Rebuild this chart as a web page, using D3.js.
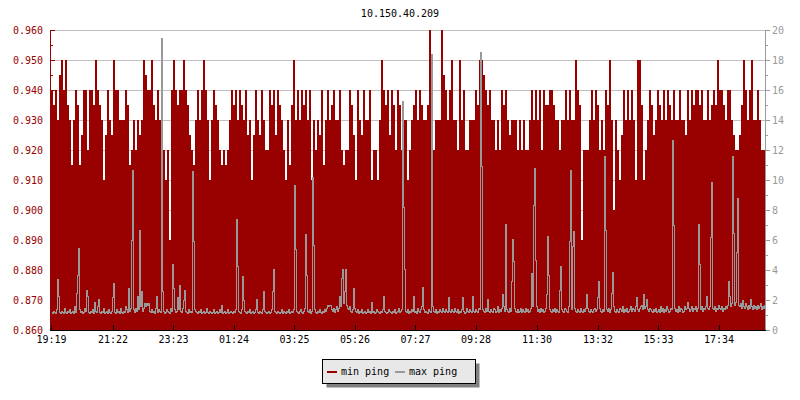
<!DOCTYPE html>
<html><head><meta charset="utf-8">
<script src="https://cdn.jsdelivr.net/npm/d3@7"></script>
<style>
body{margin:0;background:#fff}
svg{display:block}
text{font-family:"DejaVu Sans Mono",monospace;font-size:10px}
</style>
</head><body>
<svg id="chart" width="800" height="400"></svg>
<script>
const chartTitle = "10.150.40.209";
const startTime = "19:19";
const minSampleMinutes = 4;
const maxSampleMinutes = 2;
const tickLabels = ["19:19","21:22","23:23","01:24","03:25","05:26","07:27","09:28","11:30","13:32","15:33","17:34"];
const seriesNames = ["min ping","max ping"];
const leftDomain = [0.86, 0.96];
const rightDomain = [0, 20];

const minPing = [
0.94,0.935,0.94,0.93,0.945,0.95,0.94,0.95,0.935,0.93,
0.915,0.93,0.94,0.935,0.915,0.925,0.94,0.94,0.92,0.94,
0.94,0.935,0.95,0.94,0.935,0.93,0.91,0.925,0.94,0.93,
0.925,0.95,0.94,0.94,0.93,0.93,0.93,0.94,0.935,0.915,
0.92,0.93,0.92,0.93,0.925,0.93,0.95,0.945,0.94,0.94,
0.95,0.935,0.93,0.94,0.93,0.92,0.92,0.91,0.92,0.89,
0.94,0.95,0.94,0.935,0.94,0.94,0.95,0.94,0.935,0.925,
0.92,0.915,0.93,0.94,0.93,0.94,0.95,0.94,0.93,0.91,
0.93,0.94,0.935,0.93,0.92,0.915,0.92,0.915,0.92,0.93,
0.94,0.935,0.94,0.93,0.94,0.935,0.93,0.94,0.925,0.93,
0.91,0.925,0.94,0.93,0.925,0.94,0.93,0.92,0.92,0.94,
0.935,0.94,0.925,0.94,0.935,0.93,0.92,0.91,0.93,0.915,
0.935,0.95,0.93,0.94,0.93,0.94,0.935,0.94,0.93,0.94,
0.91,0.93,0.92,0.93,0.925,0.94,0.915,0.93,0.94,0.93,
0.935,0.94,0.93,0.93,0.94,0.92,0.915,0.92,0.92,0.94,
0.935,0.925,0.91,0.94,0.93,0.925,0.94,0.93,0.93,0.94,
0.91,0.92,0.92,0.91,0.93,0.95,0.94,0.935,0.94,0.925,
0.94,0.935,0.92,0.94,0.935,0.92,0.93,0.93,0.91,0.92,
0.93,0.935,0.94,0.93,0.94,0.935,0.93,0.93,0.935,0.96,
0.92,0.92,0.93,0.93,0.93,0.96,0.945,0.94,0.93,0.94,
0.95,0.93,0.93,0.92,0.95,0.93,0.94,0.92,0.92,0.93,
0.93,0.93,0.94,0.935,0.95,0.95,0.945,0.94,0.935,0.94,
0.93,0.93,0.92,0.93,0.92,0.94,0.935,0.94,0.93,0.925,
0.93,0.93,0.93,0.92,0.93,0.92,0.93,0.92,0.92,0.93,
0.94,0.93,0.94,0.93,0.94,0.92,0.94,0.935,0.935,0.94,
0.94,0.935,0.93,0.93,0.92,0.93,0.93,0.94,0.93,0.94,
0.93,0.93,0.95,0.94,0.935,0.89,0.92,0.92,0.92,0.93,
0.94,0.93,0.94,0.935,0.92,0.93,0.92,0.94,0.935,0.95,
0.93,0.90,0.93,0.92,0.91,0.925,0.94,0.93,0.94,0.93,
0.94,0.93,0.91,0.95,0.95,0.935,0.91,0.92,0.93,0.94,
0.935,0.925,0.93,0.94,0.935,0.93,0.94,0.93,0.94,0.935,
0.93,0.94,0.93,0.93,0.94,0.93,0.93,0.925,0.94,0.93,
0.94,0.935,0.94,0.94,0.935,0.94,0.93,0.93,0.94,0.93,
0.935,0.94,0.935,0.95,0.94,0.94,0.935,0.93,0.94,0.94,
0.93,0.925,0.92,0.92,0.925,0.935,0.95,0.94,0.93,0.94,
0.95,0.93,0.93,0.94,0.93,0.92,0.92,0.92
];

const maxPing = [
1.2,1.1,1.3,1.2,1.1,1.4,3.4,2.3,1.2,1.1,1.3,1.2,1.1,1.5,1.2,1.1,1.3,1.2,1.4,1.1,
1.2,1.3,1.1,1.6,1.2,2.5,3.7,5.5,1.4,1.2,1.3,1.1,1.2,1.5,1.3,2.7,2.3,1.2,1.1,1.3,
1.2,1.4,1.1,1.9,1.3,1.2,1.6,2.1,1.2,1.1,1.3,1.2,1.5,1.1,1.2,1.3,1.1,1.4,1.2,1.1,
1.3,2.2,3.1,1.2,1.1,1.4,1.2,1.3,1.1,1.5,1.2,1.1,1.3,1.2,1.6,1.4,1.2,2.8,1.3,1.5,
6.0,10.7,1.4,1.2,1.5,1.3,2.3,1.4,6.7,1.6,2.6,1.3,1.5,1.8,1.6,1.8,1.7,1.8,1.3,1.2,
1.4,1.2,1.3,1.1,1.5,2.3,1.2,1.4,1.3,1.2,19.5,2.6,1.3,1.1,1.2,1.4,1.3,1.2,1.1,1.5,
1.3,4.4,2.8,1.4,1.2,1.3,2.2,1.4,3.0,1.3,1.2,1.5,2.0,2.7,1.3,1.2,1.1,1.4,1.2,1.3,
1.2,10.6,5.9,1.4,1.3,1.2,1.1,1.3,1.2,1.4,1.1,1.2,1.3,1.1,1.2,1.5,1.2,1.1,1.3,1.2,
1.1,1.2,1.4,1.1,1.2,1.3,1.1,1.2,1.4,1.2,1.7,1.1,1.2,1.3,1.1,1.2,1.4,1.1,1.2,1.3,
1.2,1.1,1.3,1.2,1.4,7.4,4.3,1.3,1.2,1.1,1.4,3.6,2.0,1.3,1.2,1.1,1.3,1.2,1.4,1.1,
1.2,1.3,1.1,1.2,1.4,2.1,1.2,1.1,1.3,1.2,1.1,1.4,2.6,1.3,1.2,1.1,1.2,1.3,1.1,1.2,
1.4,2.6,4.1,1.3,1.2,1.1,1.3,1.2,1.1,1.2,1.4,1.1,1.3,1.2,1.1,1.3,1.2,1.4,1.1,1.2,
1.3,1.2,1.4,9.7,5.4,1.3,1.2,1.1,1.3,1.4,1.2,1.1,1.3,1.5,6.4,3.7,1.3,1.2,1.4,1.1,
1.3,10.2,5.7,1.4,1.2,1.1,1.3,1.2,1.4,1.2,1.1,1.3,1.2,1.4,1.3,1.5,1.7,1.6,1.7,1.7,
1.4,1.3,1.5,1.2,1.4,1.6,1.3,1.5,2.3,1.6,3.5,4.1,1.8,2.6,4.1,1.7,1.5,1.4,1.6,1.3,
1.2,1.4,2.8,1.5,1.3,1.2,1.4,1.1,1.3,1.2,1.4,1.1,1.2,1.3,1.1,1.2,1.4,1.2,1.3,1.1,
1.9,1.2,1.3,1.1,1.2,1.4,1.3,1.2,1.1,1.3,1.2,1.4,2.3,1.3,1.2,1.1,1.2,1.4,1.3,1.2,
1.1,1.3,1.2,1.4,1.1,1.2,1.3,1.5,1.2,1.3,1.4,15.3,8.2,4.1,1.3,1.2,1.4,1.1,1.3,1.2,
1.4,1.3,2.3,1.2,1.3,1.1,1.5,1.3,1.2,1.4,1.6,2.9,1.4,1.2,1.3,1.2,1.1,1.4,1.3,1.2,
18.4,1.6,1.3,1.2,1.4,1.1,1.3,1.2,1.4,1.3,1.2,1.5,1.3,1.2,1.4,1.3,1.2,2.2,1.3,1.2,
1.4,1.3,1.2,1.5,1.3,1.2,1.4,1.1,1.3,1.2,1.4,2.2,1.3,1.1,1.2,1.5,1.3,1.2,1.4,1.3,
1.2,2.3,1.3,1.2,1.4,1.3,1.2,1.5,1.4,18.5,10.9,1.4,1.3,1.2,1.5,1.3,2.1,1.3,1.2,1.4,
1.3,1.2,1.5,1.4,1.2,1.3,1.6,1.2,1.4,1.3,1.5,2.4,1.6,1.3,7.1,1.4,1.3,1.2,1.5,1.3,
3.3,6.1,4.6,1.5,1.3,1.2,1.4,1.2,1.3,1.5,1.2,1.4,1.3,1.2,1.5,1.3,1.4,1.2,1.3,1.5,
3.8,1.6,8.3,10.8,4.7,1.6,1.3,1.4,1.2,1.5,1.3,1.4,1.2,1.3,1.5,2.4,6.3,3.7,1.4,1.3,
1.2,1.4,1.3,1.5,1.2,1.4,1.3,1.2,2.7,4.3,1.4,1.3,1.2,1.5,1.4,1.3,1.2,1.6,5.9,10.7,
1.4,5.6,6.6,1.5,1.3,1.2,1.4,1.3,1.2,1.5,1.3,1.2,1.4,1.3,1.5,2.4,1.5,1.3,1.2,1.4,
1.3,1.2,1.4,1.5,1.3,1.4,2.2,3.3,1.5,1.3,1.2,1.4,1.3,11.6,6.7,1.4,1.3,1.5,1.2,1.4,
2.5,3.9,1.6,1.3,1.2,1.4,1.3,1.2,1.5,1.4,1.3,1.6,1.2,1.4,1.3,1.5,1.2,1.3,1.4,1.6,
1.3,1.5,1.4,1.3,1.6,2.2,1.4,1.3,1.5,1.6,1.7,1.4,2.4,1.5,1.6,2.1,1.4,1.3,1.5,1.4,
1.3,1.2,1.4,1.3,1.5,1.2,1.3,1.4,1.2,1.6,1.3,1.5,1.2,1.4,1.3,1.6,1.4,1.2,1.3,1.5,
1.4,12.7,7.0,1.5,1.3,1.4,1.2,1.6,1.3,1.5,1.4,1.2,1.3,1.6,1.4,1.5,1.9,1.5,1.3,1.4,
1.6,1.3,1.5,1.4,1.6,1.3,1.5,7.1,4.4,1.4,1.6,1.3,1.5,1.4,1.6,2.3,1.5,1.4,1.6,6.2,
9.9,1.5,1.4,1.6,1.3,1.5,1.4,1.7,1.5,1.4,1.6,1.3,1.5,1.4,1.6,1.5,1.7,3.3,2.3,1.6,
1.8,11.6,6.5,1.7,1.9,5.2,8.8,1.7,1.6,1.8,1.5,2.0,1.6,1.5,1.8,1.6,1.4,1.7,1.5,2.1,
1.6,1.4,1.7,1.5,1.6,1.4,1.7,1.5,1.6,1.8,1.4,1.6,1.5,1.7,1.4,1.6
];

const RED = "#990000", GRAY = "#999999";
const svg = d3.select("#chart");
const plot = {left: 50, right: 765, top: 30, bottom: 330};

const toMin = s => { const [h, m] = s.split(":").map(Number); return h * 60 + m; };
const t0 = toMin(startTime);
const tickMinutes = tickLabels.map(s => { let m = toMin(s) - t0; if (m < 0) m += 1440; return m; });

const totalMinutes = minPing.length * minSampleMinutes;
const x = d3.scaleLinear().domain([0, totalMinutes]).range([plot.left + 1, plot.left + 1 + totalMinutes / 2]);
const yL = d3.scaleLinear().domain(leftDomain).range([plot.bottom, plot.top]);
const yR = d3.scaleLinear().domain(rightDomain).range([plot.bottom, plot.top]);

// title
svg.append("text").attr("x", 400).attr("y", 14).attr("text-anchor", "middle")
  .attr("dominant-baseline", "middle").attr("fill", "#000").text(chartTitle);

// grid
const majorL = d3.range(0, 11).map(i => +(leftDomain[0] + i * 0.01).toFixed(3));
svg.append("g").selectAll("line").data(majorL).join("line")
  .attr("x1", plot.left).attr("x2", plot.right)
  .attr("y1", d => Math.round(yL(d)) + 0.5).attr("y2", d => Math.round(yL(d)) + 0.5)
  .attr("stroke", "#c0c0c0").attr("stroke-width", 1);

// data
svg.append("clipPath").attr("id", "clip").append("rect")
  .attr("x", plot.left + 1).attr("y", plot.top).attr("width", plot.right - plot.left - 1).attr("height", plot.bottom - plot.top + 1);
const dg = svg.append("g").attr("clip-path", "url(#clip)");

const minPts = minPing.map((v, i) => [i * minSampleMinutes, v]);
minPts.push([minPing.length * minSampleMinutes, minPing[minPing.length - 1]]);
const area = d3.area().curve(d3.curveStepAfter)
  .x(d => x(d[0])).y0(yL(leftDomain[0])).y1(d => yL(d[1]));
dg.append("path").attr("d", area(minPts)).attr("fill", RED).attr("shape-rendering", "crispEdges");

const maxPts = maxPing.map((v, i) => [i * maxSampleMinutes, v]);
const line = d3.line().curve(d3.curveStepAfter)
  .x(d => x(d[0]) + 0.5).y(d => Math.round(yR(d[1])) + 0.5);
dg.append("path").attr("d", line(maxPts)).attr("fill", "none").attr("stroke", GRAY)
  .attr("stroke-width", 1).attr("shape-rendering", "crispEdges");

// left axis
const minorL = d3.range(0, 10).map(i => +(leftDomain[0] + 0.005 + i * 0.01).toFixed(4));
const gL = svg.append("g").attr("transform", `translate(${plot.left},0)`);
gL.call(d3.axisLeft(yL).tickValues(majorL).tickSizeInner(-5).tickSizeOuter(0).tickPadding(7).tickFormat(d3.format(".3f")));
const gLm = svg.append("g").attr("transform", `translate(${plot.left},0)`);
gLm.call(d3.axisLeft(yL).tickValues(minorL).tickSizeInner(-3).tickSizeOuter(0).tickFormat(""));
gLm.select(".domain").remove();
[gL, gLm].forEach(g => {
  g.selectAll("path,line").attr("stroke", RED).attr("shape-rendering", "crispEdges");
  g.selectAll("text").attr("fill", RED).style("font-family", "DejaVu Sans Mono").style("font-size", "10px");
});

// right axis
const gR = svg.append("g").attr("transform", `translate(${plot.right},0)`);
gR.call(d3.axisRight(yR).tickValues(d3.range(0, 21, 2)).tickSizeInner(5).tickSizeOuter(0).tickPadding(2).tickFormat(d3.format("d")));
const gRm = svg.append("g").attr("transform", `translate(${plot.right},0)`);
gRm.call(d3.axisRight(yR).tickValues(d3.range(1, 20, 2)).tickSizeInner(3).tickSizeOuter(0).tickFormat(""));
gRm.select(".domain").remove();
[gR, gRm].forEach(g => {
  g.selectAll("path,line").attr("stroke", GRAY).attr("shape-rendering", "crispEdges");
  g.selectAll("text").attr("fill", GRAY).style("font-family", "DejaVu Sans Mono").style("font-size", "10px");
});

// bottom axis
const gB = svg.append("g").attr("transform", `translate(0,${plot.bottom})`);
gB.call(d3.axisBottom(x).tickValues(tickMinutes).tickFormat((d, i) => tickLabels[i]).tickSizeInner(-5).tickSizeOuter(0).tickPadding(6));
gB.select(".domain").remove();
gB.selectAll("line").attr("stroke", "#000").attr("shape-rendering", "crispEdges");
gB.selectAll("text").attr("fill", "#000").style("font-family", "DejaVu Sans Mono").style("font-size", "10px");
svg.append("line").attr("x1", plot.left).attr("x2", plot.right + 1)
  .attr("y1", plot.bottom + 0.5).attr("y2", plot.bottom + 0.5).attr("stroke", "#000").attr("shape-rendering", "crispEdges");

// legend
const lg = svg.append("g").attr("transform", "translate(322,359)");
lg.append("rect").attr("x", 4.5).attr("y", 4.5).attr("width", 153).attr("height", 24).attr("fill", "#808080");
lg.append("rect").attr("x", 0.5).attr("y", 0.5).attr("width", 153).attr("height", 24).attr("fill", "#e8e8e8").attr("stroke", "#000");
const items = [{name: seriesNames[0], color: RED, x: 5}, {name: seriesNames[1], color: GRAY, x: 73}];
const it = lg.selectAll("g.item").data(items).join("g").attr("class", "item").attr("transform", d => `translate(${d.x},0)`);
it.append("line").attr("x1", 0).attr("x2", 10).attr("y1", 13).attr("y2", 13).attr("stroke", d => d.color).attr("stroke-width", 2);
it.append("text").attr("x", 14).attr("y", 12.5).attr("dominant-baseline", "middle").attr("fill", "#000").text(d => d.name);
</script>
</body></html>
